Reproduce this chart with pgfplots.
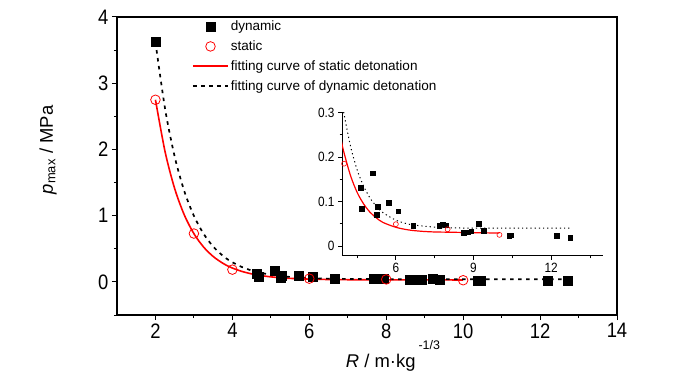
\documentclass[border=0pt]{standalone}
\usepackage{fontspec}
\setmainfont{Liberation Sans}
\newfontfamily\tickfont[FakeStretch=0.88]{Liberation Sans}
\usepackage{pgfplots}
\usepackage{pgfplotstable}
\pgfplotsset{compat=1.18}

\pgfplotstableread{
x y
2 3.62
4.64 0.131
4.69 0.084
5.11 0.164
5.26 0.0705
5.29 0.0885
5.72 0.0975
6.09 0.078
6.67 0.045
7.67 0.045
7.80 0.049
7.93 0.047
8.61 0.030
8.78 0.031
8.91 0.033
9.21 0.050
9.39 0.034
10.37 0.023
10.45 0.024
12.21 0.0225
12.73 0.019
}\dyn

\pgfplotstableread{
x y
2 2.75
3 0.73
4 0.185
6 0.049
8 0.0375
10 0.025
}\sta

\pgfplotstableread{
x y
2 2.75
2.25 1.966
2.5 1.408
2.75 1.011
3 0.728
3.25 0.527
3.5 0.384
3.75 0.282
3.9 0.235
4 0.209
4.25 0.158
4.5 0.121
4.75 0.095
5 0.076
5.25 0.063
5.5 0.053
6 0.042
6.5 0.036
7 0.033
7.5 0.0315
8 0.031
9 0.030
10 0.029
}\stafit

\pgfplotstableread{
x y
2 3.62
2.25 2.614
2.5 1.891
2.75 1.370
3 0.997
3.25 0.728
3.5 0.534
3.75 0.395
3.9 0.331
4 0.296
4.25 0.224
4.5 0.172
4.75 0.135
5 0.108
5.25 0.089
5.5 0.075
6 0.058
6.5 0.049
7 0.045
7.5 0.0425
8 0.041
9 0.040
10 0.040
11 0.040
12.73 0.040
}\dynfit

\begin{document}
\begin{tikzpicture}
\useasboundingbox (-117bp,-59bp) rectangle (583bp,315bp);
\begin{axis}[
  at={(0,0)}, anchor=south west,
  scale only axis, width=500bp, height=298bp,
  xmin=1, xmax=14, ymin=-0.5, ymax=4,
  xtick={2,4,...,14}, minor xtick={3,5,...,13},
  ytick={0,1,2,3,4}, minor ytick={-0.5,0.5,1.5,2.5,3.5},
  tick pos=left, tick align=outside,
  major tick length=5bp, minor tick length=3bp,
  every tick/.style={black, line width=1bp},
  axis line style={line width=1.2bp},
  tick label style={font=\tickfont\fontsize{21}{21}\selectfont},
  /pgf/number format/assume math mode=true,
  xlabel={\textit{R} / m·kg\hspace{3bp}\raisebox{18bp}{\fontsize{12.5}{12.5}\selectfont -1/3}},
  xlabel style={font=\fontsize{18.5}{18.5}\selectfont, at={(axis description cs:0.552,-0.1745)}, anchor=base},
  ylabel={\textit{p}\textsubscript{max} / MPa},
  ylabel style={font=\fontsize{18.5}{18.5}\selectfont, at={(axis description cs:-0.138,0.554)}, anchor=center},
  legend style={at={(axis description cs:0.15,0.994)}, anchor=north west, draw=none, fill=none,
    font=\fontsize{13.6}{13.6}\selectfont, row sep=4.5bp, inner sep=0pt, cells={anchor=west}},
  legend image code/.code={\draw[mark repeat=2,mark phase=2,#1] plot coordinates {(0bp,0bp) (17.5bp,0bp) (35bp,0bp)};},
]
\addplot[red, line width=1.6bp, smooth, forget plot] table[x=x,y=y] {\stafit};
\addplot[black, line width=1.7bp, dash pattern=on 3.5bp off 4.5bp, smooth, forget plot] table[x=x,y=y] {\dynfit};
\addplot[only marks, mark=square*, mark size=4.5bp, black] table[x=x,y=y] {\dyn};
\addlegendentry{dynamic}
\addplot[only marks, mark=o, mark size=4.8bp, red, mark options={line width=0.8bp}] table[x=x,y=y] {\sta};
\addlegendentry{static}
\addlegendimage{red, line width=1.6bp}
\addlegendentry{fitting curve of static detonation}
\addlegendimage{black, line width=1.6bp, dash pattern=on 4bp off 4bp}
\addlegendentry{fitting curve of dynamic detonation}
\end{axis}

\begin{axis}[
  at={(225bp,59bp)}, anchor=south west,
  scale only axis, width=261bp, height=143.5bp,
  xmin=3.92, xmax=14, ymin=-0.0225, ymax=0.3,
  axis lines=left,
  every outer x axis line/.append style={-},
  every outer y axis line/.append style={-},
  x axis line style={-}, y axis line style={-},
  axis line style={line width=1bp},
  xtick={6,9,12}, minor xtick={4.5,7.5,10.5,13.5},
  ytick={0,0.1,0.2,0.3}, minor ytick={0.05,0.15,0.25},
  tick align=outside,
  major tick length=4bp, minor tick length=2.5bp,
  every tick/.style={black, line width=0.8bp},
  tick label style={font=\tickfont\fontsize{13.5}{13.5}\selectfont},
  /pgf/number format/assume math mode=true,
  clip=true,
]
\addplot[red, line width=1.2bp, smooth] table[x=x,y=y] {\stafit};
\addplot[black, line width=1bp, dash pattern=on 1.2bp off 3bp, smooth] table[x=x,y=y] {\dynfit};
\addplot[only marks, mark=square*, mark size=2.3bp, black] table[x=x,y=y] {\dyn};
\addplot[only marks, mark=o, mark size=2.5bp, red, mark options={line width=0.6bp}] table[x=x,y=y] {\sta};
\end{axis}
\end{tikzpicture}
\end{document}
